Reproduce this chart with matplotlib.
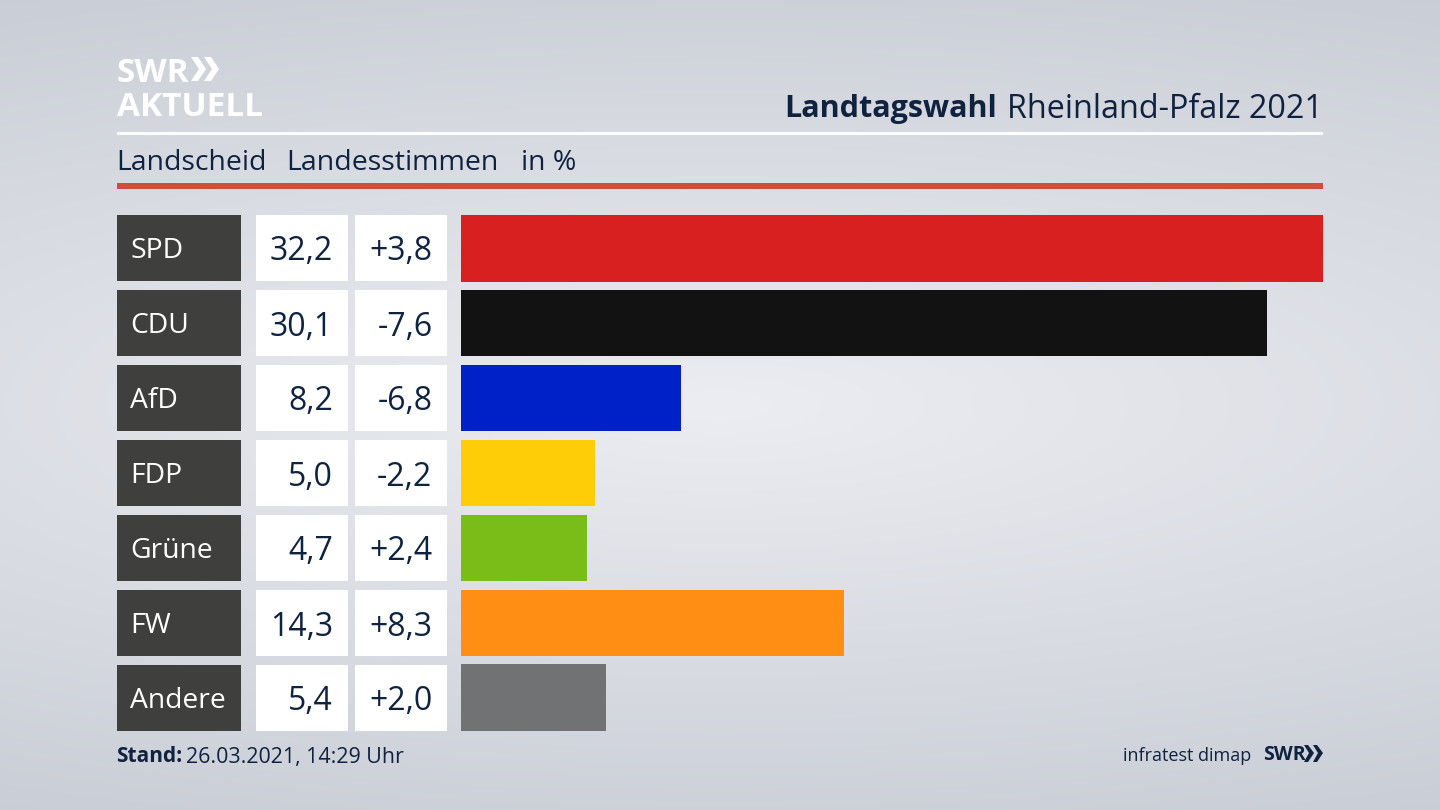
import numpy as np
import matplotlib.pyplot as plt
from matplotlib.patches import Rectangle, Polygon

plt.rcParams['font.family'] = ['Open Sans', 'DejaVu Sans']

# Daten
parteien = ["SPD", "CDU", "AfD", "FDP", "Grüne", "FW", "Andere"]
anteile = [32.2, 30.1, 8.2, 5.0, 4.7, 14.3, 5.4]
anteile_txt = ["32,2", "30,1", "8,2", "5,0", "4,7", "14,3", "5,4"]
diff_txt = ["+3,8", "-7,6", "-6,8", "-2,2", "+2,4", "+8,3", "+2,0"]
farben = ["#d7201f", "#121212", "#0020c8", "#ffcc08", "#7abd18", "#ff8e14", "#717274"]

NAVY = "#0f2240"
DARK = "#3f3f3d"

fig = plt.figure(figsize=(14.4, 8.1), dpi=100)

# Hintergrund: hell in der Mitte, grau am Rand
bg = fig.add_axes([0, 0, 1, 1], zorder=0)
yy, xx = np.mgrid[0:1:270j, 0:1:480j]
r = np.sqrt(((xx - 0.5) / 1.1) ** 2 + ((yy - 0.5) / 0.55) ** 2)
r = np.clip(r, 0, 1)
c1, c2 = np.array([236, 237, 242]) / 255, np.array([202, 206, 214]) / 255
bg.imshow(c1 + (c2 - c1) * r[..., None], extent=[0, 1440, 810, 0], aspect='auto')
bg.axis('off')

# Overlay in Pixelkoordinaten
ov = fig.add_axes([0, 0, 1, 1], zorder=1)
ov.set_xlim(0, 1440)
ov.set_ylim(810, 0)
ov.axis('off')
ov.patch.set_alpha(0)

# Balken
ax = fig.add_axes([461 / 1440, 1 - 731 / 810, 862 / 1440, 516 / 810], zorder=2)
ax.patch.set_alpha(0)
y = np.arange(len(parteien))
ax.barh(y, anteile, height=0.888, color=farben)
ax.set_xlim(0, 32.2)
ax.set_ylim(len(parteien) - 0.556, -0.444)
ax.axis('off')

# Tabelle links
oben = [215, 290, 365, 440, 515, 590, 665]
hoehe = 66
for i, t in enumerate(oben):
    ov.add_patch(Rectangle((117, t), 124, hoehe, color=DARK, lw=0))
    ov.add_patch(Rectangle((255.5, t), 92.5, hoehe, color="white", lw=0))
    ov.add_patch(Rectangle((354.5, t), 92.5, hoehe, color="white", lw=0))
    m = t + hoehe / 2
    ov.text(130.5, m + 3, parteien[i], color="white", fontsize=20.3, va='center', ha='left')
    ov.text(333, m + 4, anteile_txt[i], color=NAVY, fontsize=23, va='center', ha='right')
    ov.text(432.5, m + 4, diff_txt[i], color=NAVY, fontsize=23, va='center', ha='right')

# Kopf
ov.add_patch(Rectangle((117, 132), 1206, 3, color="white", lw=0))
ov.add_patch(Rectangle((117, 183), 1206, 6, color="#cf4f3c", lw=0))
ov.text(116, 163, "Landscheid", color=NAVY, fontsize=20.4, va='center')
ov.text(286.5, 163, "Landesstimmen", color=NAVY, fontsize=20.5, va='center')
ov.text(521, 163, "in %", color=NAVY, fontsize=20.4, va='center')
ov.text(997, 109, "Landtagswahl", color=NAVY, fontsize=22, va='center', ha='right', fontweight='bold')
ov.text(1323, 109, "Rheinland-Pfalz 2021", color=NAVY, fontsize=23.3, va='center', ha='right')

# Logo
ov.text(117, 82, "SWR", color="white", fontsize=24, fontweight='bold', va='baseline')
ov.text(117, 116, "AKTUELL", color="white", fontsize=24, fontweight='bold', va='baseline')
for x0 in (191, 204):
    ov.add_patch(Polygon([(x0, 57), (x0 + 7, 57), (x0 + 15, 69), (x0 + 7, 81), (x0, 81), (x0 + 8, 69)],
                         color="white", lw=0))

# Fuss
ov.text(116.5, 757, "Stand:", color=NAVY, fontsize=15, fontweight='bold', va='center')
ov.text(186, 757, "26.03.2021, 14:29 Uhr", color=NAVY, fontsize=15.4, va='center')
ov.text(1251, 756, "infratest dimap", color=NAVY, fontsize=13, va='center', ha='right')
ov.text(1263, 755, "SWR", color=NAVY, fontsize=14, fontweight='bold', va='center')
for x0 in (1304, 1313):
    ov.add_patch(Polygon([(x0, 745), (x0 + 4, 745), (x0 + 10, 753), (x0 + 4, 762), (x0, 762), (x0 + 5, 753)],
                         color=NAVY, lw=0))

plt.savefig("out.png", dpi=100)
